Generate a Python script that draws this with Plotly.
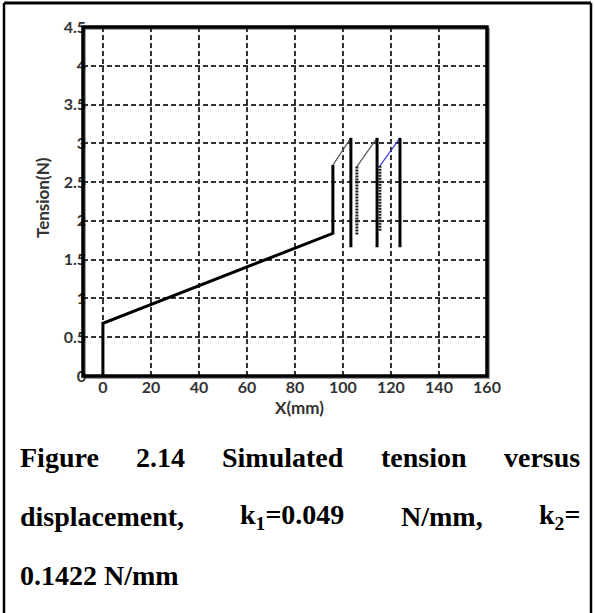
import plotly.graph_objects as go

# ---- data ----
ramp_x = [0, 0, 95.8, 95.8]
ramp_y = [0, 0.68, 1.84, 2.72]

rise_x0 = [95.8, 105.8, 115.4]
rise_y0 = [2.72, 2.70, 2.71]
rise_x1 = [103.3, 114.2, 123.75]
rise_y1 = [3.07, 3.07, 3.07]
rise_colors = ["#555555", "#555555", "#3b3bd6"]

drop_x = [103.3, 114.2, 123.75]
drop_top = [3.07, 3.07, 3.07]
drop_bottom = [1.66, 1.66, 1.66]

reload_x = [105.8, 115.4]
reload_top = [2.70, 2.71]
reload_bottom = [1.82, 1.86]

x_ticks = [0, 20, 40, 60, 80, 100, 120, 140, 160]
x_tick_text = ["0", "20", "40", "60", "80", "100", "120", "140", "160"]
y_ticks = [0, 0.5, 1, 1.5, 2, 2.5, 3, 3.5, 4, 4.5]
y_tick_text = ["0", "0.5", "1", "1.5", "2", "2.5", "3", "3.5", "4", "4.5"]

caption_line1 = ["Figure", "2.14", "Simulated", "tension", "versus"]
caption_line2 = ["displacement,", "k<sub>1</sub>=0.049", "N/mm,", "k<sub>2</sub>="]
caption_line3 = "0.1422 N/mm"

W, H = 595, 613
L, R, T, B = 83, 487, 27, 376

fig = go.Figure()

fig.add_trace(go.Scatter(x=ramp_x, y=ramp_y, mode="lines",
                         line=dict(color="black", width=3), showlegend=False))
for i in range(len(rise_x0)):
    fig.add_trace(go.Scatter(x=[rise_x0[i], rise_x1[i]], y=[rise_y0[i], rise_y1[i]],
                             mode="lines", line=dict(color=rise_colors[i], width=1.2),
                             showlegend=False))
for i in range(len(drop_x)):
    fig.add_trace(go.Scatter(x=[drop_x[i], drop_x[i]], y=[drop_top[i], drop_bottom[i]],
                             mode="lines", line=dict(color="black", width=3),
                             showlegend=False))
for i in range(len(reload_x)):
    fig.add_trace(go.Scatter(x=[reload_x[i], reload_x[i]], y=[reload_top[i], reload_bottom[i]],
                             mode="lines", line=dict(color="#222222", width=3, dash="2px,1px"),
                             showlegend=False))

tickfont = dict(family="Lato", size=16, color="#333333", weight="bold")

fig.update_xaxes(range=[-8.3, 160], tickvals=x_ticks,
                 ticktext=["<b>%s</b>" % t for t in x_tick_text], showgrid=True,
                 gridcolor="#333333", gridwidth=1.5, griddash="5px,3px",
                 zeroline=False, showline=False, ticks="", tickfont=tickfont,
                 ticklabelstandoff=0)
fig.update_yaxes(range=[0, 4.5], tickvals=y_ticks,
                 ticktext=["<b>%s</b>" % t for t in y_tick_text], showgrid=True,
                 gridcolor="#333333", gridwidth=1.5, griddash="5px,3px",
                 zeroline=False, showline=False, ticks="", tickfont=tickfont,
                 ticklabelstandoff=-4)

pw, ph = R - L, B - T
def px(xp):
    return (xp - L) / pw
def py(yp):
    return (B - yp) / ph

shapes = [
    # soft shadow of the plot frame
    dict(type="rect", xref="paper", yref="paper", x0=px(L + 2), x1=px(R + 2), y0=py(B + 2), y1=py(T + 2),
         line=dict(color="#9a9a9a", width=2), layer="below"),
    dict(type="rect", xref="paper", yref="paper", x0=0, x1=1, y0=0, y1=1,
         line=dict(color="black", width=3.5), layer="above"),
    # outer page frame
    dict(type="line", xref="paper", yref="paper", x0=px(4), x1=px(591), y0=py(3), y1=py(3),
         line=dict(color="black", width=3)),
    dict(type="line", xref="paper", yref="paper", x0=px(4), x1=px(4), y0=py(3), y1=py(620),
         line=dict(color="black", width=2.5)),
    dict(type="line", xref="paper", yref="paper", x0=px(591), x1=px(591), y0=py(3), y1=py(620),
         line=dict(color="black", width=2.5)),
]

titlefont = dict(family="Lato", size=17, color="#333333", weight="bold")
ann = []
ann.append(dict(text="<b>X(mm)</b>", xref="paper", yref="paper", x=px(299), y=py(407),
                xanchor="center", yanchor="middle", showarrow=False, font=titlefont))
ann.append(dict(text="<b>Tension(N)</b>", xref="paper", yref="paper", x=px(42), y=py(198),
                xanchor="center", yanchor="middle", showarrow=False, textangle=-90,
                font=titlefont))

capfont = dict(family="Liberation Serif", size=28, color="black", weight="bold")
line1_x = [18, 134, 220, 379, 502]
for w, xx in zip(caption_line1, line1_x):
    ann.append(dict(text=w, xref="paper", yref="paper", x=px(xx), y=py(457),
                    xanchor="left", yanchor="middle", showarrow=False, font=capfont))
line2_x = [18, 238, 399, 537]
for w, xx in zip(caption_line2, line2_x):
    ann.append(dict(text=w, xref="paper", yref="paper", x=px(xx), y=py(516),
                    xanchor="left", yanchor="middle", showarrow=False, font=capfont))
ann.append(dict(text=caption_line3, xref="paper", yref="paper", x=px(18), y=py(575),
                xanchor="left", yanchor="middle", showarrow=False, font=capfont))

fig.update_layout(width=W, height=H, margin=dict(l=L, r=W - R, t=T, b=H - B),
                  plot_bgcolor="white", paper_bgcolor="white",
                  shapes=shapes, annotations=ann, showlegend=False)

fig.write_html("out.html")
